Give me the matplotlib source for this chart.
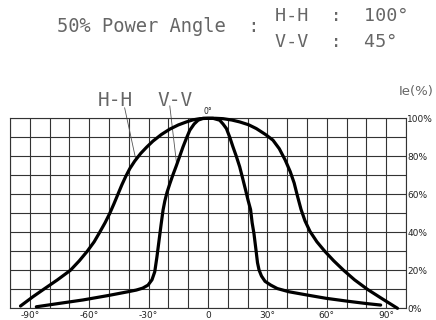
import matplotlib
matplotlib.use("Agg")
import matplotlib.pyplot as plt

# angle (deg) vs relative intensity (%)
hh_angle = [-94.7, -88.4, -83, -76, -69.5, -65, -61, -57.5, -54.7, -52, -49.6, -47.5, -45.5, -43.5,
            -41.5, -39.5, -37, -34, -31, -27.8, -23.5, -19.3, -15, -10.9, -7.5, -4.2, 0,
            3.8, 7.6, 12, 16, 20.5, 24.4, 29, 32.8, 36, 39, 41.5, 43.5, 45.2, 47, 49, 51.5,
            55, 59, 63.5, 68.5, 74, 80.5, 88, 95.7]
hh_value = [1.2, 6.1, 10, 15, 20, 25, 30, 35, 40, 45, 50, 55, 60, 65,
            69.5, 73.5, 77.5, 81.5, 84.8, 88, 91.5, 94.3, 96.5, 98.1, 99.2, 99.8, 100,
            100, 99.8, 99.1, 98.1, 96.6, 94.6, 91.5, 88.5, 84, 78, 72, 66, 59, 52, 46, 40.5,
            35, 30, 25, 20, 15, 10, 5, 0]

vv_angle = [-86.7, -75, -63.1, -50, -40, -36.2, -33, -30.3, -28.3, -26.9, -25.8, -24.7, -23.7,
            -22.7, -21.8, -20.7, -19.3, -17.8, -16, -14.3, -12.6, -10.9, -9.2, -7, -5, -2.5, 0,
            2.5, 5.9, 7.6, 9.3, 11, 12.6, 14.3, 16, 17.6, 19, 20.2, 21.5, 22.3, 23.2, 24.2,
            25, 25.8, 27, 28.8, 31.7, 35, 40.9, 50, 59.4, 70, 80, 87.2]
vv_value = [0.8, 2.6, 4.4, 6.8, 8.8, 9.6, 10.6, 12.2, 15, 19.2, 27, 35.9, 44,
            51.7, 56.5, 61, 65.5, 70, 75, 80, 85, 89.5, 93.7, 97, 99, 100, 100,
            100, 99, 97, 94.6, 90, 85, 80, 74.5, 68, 62.2, 57, 52, 45, 39.4, 31,
            24, 20.1, 17, 14.2, 12.2, 10.4, 8.7, 7, 5.3, 3.8, 2.5, 1.7]

x_ticks = [-90, -60, -30, 0, 30, 60, 90]
x_labels = ["-90°", "-60°", "-30°", "0", "30°", "60°", "90°"]
y_ticks = [0, 20, 40, 60, 80, 100]
y_labels = ["0%", "20%", "40%", "60%", "80%", "100%"]

# label text + leader line (start, end) in data units
hh_label = ("H-H", -46.6, 109.5, (-42.1, 105.5), (-36.5, 78.5))
vv_label = ("V-V", -16.8, 109.5, (-19.3, 106.5), (-15.8, 75.5))

fig = plt.figure(figsize=(4.36, 3.2), dpi=100)
ax = fig.add_axes([10 / 436, 1 - 308.3 / 320, 396 / 436, 190 / 320])

ax.set_xlim(-100, 100)
ax.set_ylim(0, 100)
ax.set_xticks(range(-100, 101, 10), minor=True)
ax.set_yticks(range(0, 101, 10), minor=True)
ax.grid(which="both", color="#333333", lw=0.8)
ax.set_axisbelow(True)
for s in ax.spines.values():
    s.set_color("#333333")
    s.set_linewidth(0.8)

ax.set_xticks(x_ticks)
ax.set_xticklabels(x_labels, fontsize=6.5, color="#222222")
ax.yaxis.tick_right()
ax.set_yticks(y_ticks)
ax.set_yticklabels(y_labels, fontsize=6.5, color="#222222")
ax.tick_params(which="both", length=0, pad=2)
ax.tick_params(axis="y", pad=1)

ax.plot(hh_angle, hh_value, color="black", lw=2.3, solid_joinstyle="round",
        solid_capstyle="round", clip_on=False, zorder=3)
ax.plot(vv_angle, vv_value, color="black", lw=2.3, solid_joinstyle="round",
        solid_capstyle="round", clip_on=False, zorder=3)

mono = "DejaVu Sans Mono"
txt_col = "#666666"
for txt, tx, ty, p0, p1 in [hh_label, vv_label]:
    ax.text(tx, ty, txt, ha="center", va="center", fontsize=14, family=mono,
            color=txt_col, clip_on=False)
    ax.plot([p0[0], p1[0]], [p0[1], p1[1]], color="#555555", lw=0.6, clip_on=False)

ax.text(0, 103.5, "0°", ha="center", va="center", fontsize=5.5, color="#222222")

fig.text(0.995, 1 - 92 / 320, "Ie(%)", ha="right", va="center", fontsize=9.5, color=txt_col)
fig.text(56.7 / 436, 1 - 27 / 320, "50% Power Angle  :", ha="left", va="center",
         fontsize=13.5, family=mono, color=txt_col)
fig.text(275 / 436, 1 - 16 / 320, "H-H  :  100°", ha="left", va="center",
         fontsize=13.2, family=mono, color=txt_col)
fig.text(275 / 436, 1 - 42 / 320, "V-V  :  45°", ha="left", va="center",
         fontsize=13.2, family=mono, color=txt_col)

fig.savefig("out.png", dpi=100)
